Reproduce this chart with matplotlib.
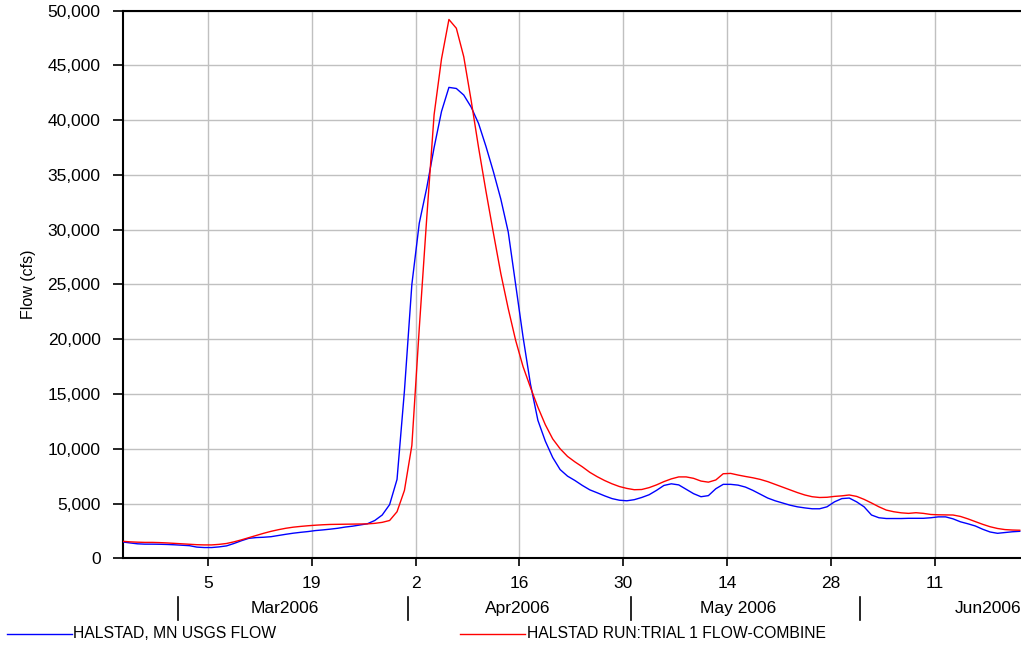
import matplotlib as mpl
mpl.use("Agg")
import matplotlib.pyplot as plt
import matplotlib.transforms as mtransforms
from matplotlib.lines import Line2D
from matplotlib.ticker import FuncFormatter
import numpy as np
import pandas as pd

# --- Datos (caudal diario, cfs) ---
start = "2006-02-21 12:00"
usgs_flow = [
    1490, 1400, 1320, 1290, 1290, 1280, 1260, 1230, 1190, 1150,
    1020, 980, 980, 1040, 1130, 1350, 1600, 1820, 1890, 1920,
    1970, 2080, 2190, 2290, 2370, 2440, 2530, 2590, 2660, 2740,
    2850, 2930, 3040, 3150, 3450, 3950, 4900, 7200, 15300, 25000,
    30600, 33800, 37500, 40800, 43000, 42900, 42300, 41200, 39700, 37600,
    35300, 32800, 29800, 25000, 20200, 15900, 12600, 10700, 9200, 8100,
    7500, 7100, 6650, 6250, 5980, 5700, 5450, 5300, 5250, 5350,
    5550, 5800, 6200, 6650, 6800, 6700, 6300, 5900, 5620, 5720,
    6350, 6750, 6750, 6680, 6500, 6200, 5850, 5500, 5250, 5050,
    4850, 4700, 4600, 4520, 4520, 4700, 5150, 5450, 5500, 5150,
    4700, 3950, 3700, 3630, 3630, 3630, 3650, 3650, 3650, 3700,
    3780, 3780, 3600, 3330, 3150, 2950, 2650, 2400, 2280, 2350,
    2420, 2460,
]
trial_flow = [
    1550, 1500, 1470, 1450, 1450, 1430, 1400, 1360, 1320, 1280,
    1240, 1220, 1220, 1270, 1350, 1500, 1680, 1880, 2080, 2280,
    2460, 2610, 2740, 2840, 2910, 2970, 3020, 3060, 3090, 3100,
    3110, 3120, 3130, 3140, 3190, 3280, 3450, 4250, 6200, 10300,
    21000, 31000, 40500, 45600, 49200, 48400, 45800, 41800, 37500, 33500,
    29700, 26000, 22800, 19900, 17500, 15600, 13800, 12200, 10900, 10000,
    9300, 8800, 8350, 7850, 7450, 7100, 6800, 6550, 6380, 6260,
    6280, 6450, 6700, 7000, 7250, 7430, 7430, 7300, 7050, 6950,
    7150, 7720, 7750, 7600, 7470, 7350, 7200, 7000, 6750, 6500,
    6250, 6000, 5780, 5620, 5550, 5570, 5650, 5700, 5780, 5650,
    5380, 5050, 4700, 4400, 4250, 4150, 4100, 4160, 4100, 4000,
    3970, 3960, 3950, 3820, 3600, 3350, 3100, 2880, 2720, 2620,
    2580, 2560,
]
day_ticks = ["2006-03-05", "2006-03-19", "2006-04-02", "2006-04-16",
             "2006-04-30", "2006-05-14", "2006-05-28", "2006-06-11"]
day_labels = ["5", "19", "2", "16", "30", "14", "28", "11"]
month_starts = ["2006-03-01", "2006-04-01", "2006-05-01", "2006-06-01"]
month_labels = ["Mar2006", "Apr2006", "May 2006", "Jun2006"]
month_label_pos = ["2006-03-15 08:00", "2006-04-15 18:00", "2006-05-15 12:00", "2006-06-22 16:00"]
series_names = ["HALSTAD, MN USGS FLOW", "HALSTAD RUN:TRIAL 1 FLOW-COMBINE"]

dates = pd.date_range(start, periods=len(usgs_flow), freq="D")

mpl.rcParams.update({
    "font.family": ["Liberation Sans", "DejaVu Sans"],
})

fig = plt.figure(figsize=(10.21, 6.46), dpi=100)
fig.patch.set_facecolor("white")
ax = fig.add_axes([0.1202, 0.1358, 0.8798, 0.8476])

ax.plot(dates, usgs_flow, color="#0000ff", linewidth=1.0, zorder=3)
ax.plot(dates, trial_flow, color="#ff0000", linewidth=1.0, zorder=3)

ax.set_xlim(dates[0], pd.Timestamp("2006-06-22 16:00"))
ax.set_ylim(0, 50000)

ax.set_yticks(np.arange(0, 50001, 5000))
ax.yaxis.set_major_formatter(FuncFormatter(lambda v, p: f"{v:,.0f}"))
ax.set_xticks(pd.to_datetime(day_ticks))
ax.set_xticklabels(day_labels)

ax.grid(True, color="#c0c0c0", linewidth=1.0, zorder=0)
ax.set_axisbelow(True)

for side in ["left", "bottom", "top"]:
    ax.spines[side].set_color("black")
    ax.spines[side].set_linewidth(1.5)
ax.spines["right"].set_visible(False)

ax.tick_params(axis="y", direction="out", length=7, width=1.2, pad=9, labelsize=12.5)
ax.tick_params(axis="x", direction="out", length=5.8, width=1.2, pad=7, labelsize=12.5)

ax.set_ylabel("Flow (cfs)", fontsize=11.5, labelpad=8)

# --- Separadores de mes y etiquetas ---
trans = mtransforms.blended_transform_factory(ax.transData, ax.transAxes)
for d in pd.to_datetime(month_starts):
    ax.plot([d, d], [-0.071, -0.113], color="black", linewidth=1.2,
            transform=trans, clip_on=False)
for lab, d in zip(month_labels, pd.to_datetime(month_label_pos)):
    ha = "right" if lab.startswith("Jun") else "center"
    ax.text(d, -0.091, lab, transform=trans, ha=ha, va="center", fontsize=12.5)

# --- Leyenda ---
ly = 1 - 634 / 646
fig.add_artist(Line2D([7 / 1021, 72 / 1021], [ly, ly], color="#0000ff", linewidth=1.0))
fig.text(73 / 1021, ly, series_names[0], ha="left", va="center", fontsize=11.3)
fig.add_artist(Line2D([460 / 1021, 525 / 1021], [ly, ly], color="#ff0000", linewidth=1.0))
fig.text(527 / 1021, ly, series_names[1], ha="left", va="center", fontsize=11.3)

fig.savefig("out.png", dpi=100)
plt.close(fig)
